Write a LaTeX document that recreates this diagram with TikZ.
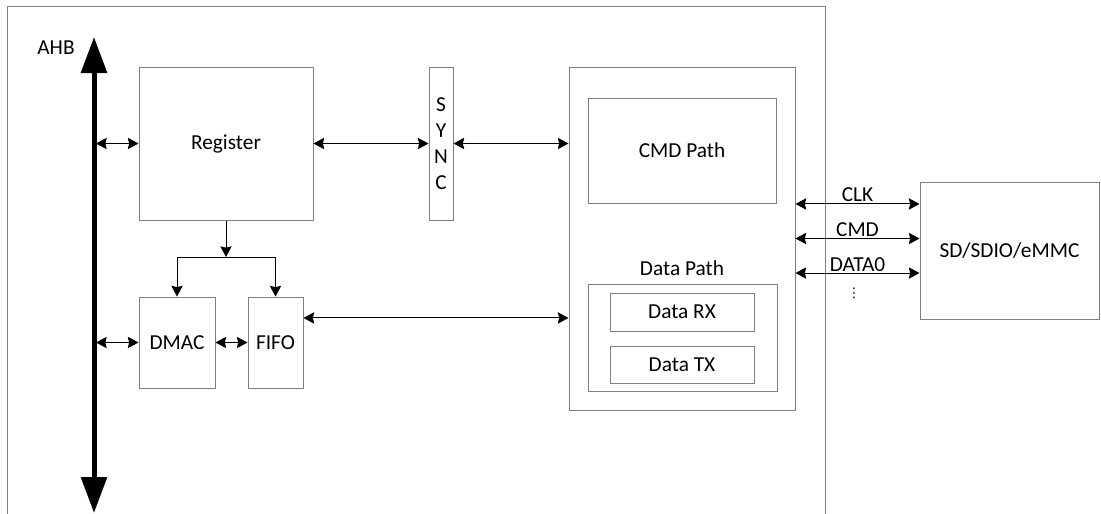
\documentclass[tikz,border=0pt]{standalone}
\usepackage{fontspec}
\setmainfont{Carlito}
\newfontfamily\symfont{DejaVu Sans}
\usetikzlibrary{arrows.meta}
\definecolor{boxgray}{HTML}{7F7F7F}

\begin{document}
\begin{tikzpicture}[x=0.75pt, y=-0.75pt,
    >={Stealth[length=8pt, width=8.5pt, inset=1pt]},
    font=\fontsize{16}{19.5}\selectfont,
    box/.style={draw=boxgray, line width=0.75pt, inner sep=0pt},
    link/.style={line width=0.75pt}]
  \useasboundingbox (0,0) rectangle (1101,514);
  % Outer frame (open at the bottom)
  \draw[boxgray, line width=0.75pt] (7,514) -- (7,6) -- (825,6) -- (825,514);
  % Blocks on the bus side
  \node[box, minimum width=130.5pt, minimum height=114.75pt] (reg) at (226,143.5) {Register};
  \node[box, minimum width=18pt, minimum height=114.75pt, align=center] (sync) at (441,143.5) {S\\Y\\N\\C};
  \node[box, minimum width=57pt, minimum height=68.25pt] (dmac) at (177,342.5) {DMAC};
  \node[box, minimum width=41.25pt, minimum height=68.25pt] (fifo) at (275.5,342.5) {FIFO};
  % Card controller with its paths
  \node[box, minimum width=169.5pt, minimum height=257.25pt] (ctrl) at (682,238.5) {};
  \node[box, minimum width=141pt, minimum height=78.75pt] (cmd) at (682,150.5) {CMD Path};
  \node (dlabel) at (682,268) {Data Path};
  \node[box, minimum width=141.75pt, minimum height=80.25pt] (dpath) at (682.5,337.5) {};
  \node[box, minimum width=108pt, minimum height=28.5pt] (rx) at (682,312) {Data RX};
  \node[box, minimum width=108pt, minimum height=27.75pt] (tx) at (682,364.5) {Data TX};
  % External card
  \node[box, minimum width=134.25pt, minimum height=102.75pt] (sd) at (1009.5,250.5) {SD/SDIO/eMMC};
  % AHB bus
  \node (ahblabel) at (56,48) {AHB};
  \coordinate (ahbtop) at (94,37);
  \coordinate (ahbbot) at (94,513);
  \draw[<->, link, shorten <=1.5pt] (reg.west -| ahbtop) -- (reg.west);
  \draw[<->, link, shorten <=1.5pt] (dmac.west -| ahbtop) -- (dmac.west);
  \draw[line width=3.75pt, {Triangle[length=27pt, width=19pt]}-{Triangle[length=27pt, width=19pt]}]
    (ahbtop) -- (ahbbot);
  % Register to DMAC and FIFO
  \coordinate (split) at (226,257);
  \draw[->, link] (reg.south) -- (split);
  \draw[link] (dmac.north |- split) -- (fifo.north |- split);
  \draw[->, link] (dmac.north |- split) -- (dmac.north);
  \draw[->, link] (fifo.north |- split) -- (fifo.north);
  \draw[<->, link] (dmac) -- (fifo);
  % Register, SYNC and controller
  \draw[<->, link] (reg) -- (sync);
  \draw[<->, link] (sync.east) -- (sync.east -| ctrl.west);
  \coordinate (fifoout) at ([yshift=18.4pt]fifo.east);
  \draw[<->, link] (fifoout) -- (fifoout -| ctrl.west);
  % Card signals
  \foreach \name/\dy in {CLK/25.9pt, CMD/0pt, DATA0/-25.9pt} {
    \coordinate (\name-l) at ([yshift=\dy]ctrl.east);
    \draw[<->, link] (\name-l) -- (\name-l -| sd.west)
      node[midway, above, inner sep=1pt] {\name};
  }
  \node[font=\symfont\fontsize{10}{12}\selectfont] (more) at (854,293) {⋮};
\end{tikzpicture}
\end{document}
